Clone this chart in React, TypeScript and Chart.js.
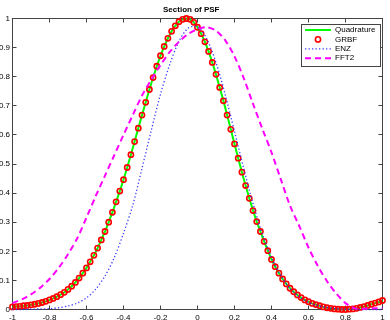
import React, { useEffect, useRef } from 'react';
import { Chart, registerables } from 'chart.js';

Chart.register(...registerables);

// ---- data ----
const xFine = [
  -1, -0.98, -0.96, -0.94, -0.92, -0.9, -0.88, -0.86, -0.84, -0.82,
  -0.8, -0.78, -0.76, -0.74, -0.72, -0.7, -0.68, -0.66, -0.64, -0.62,
  -0.6, -0.58, -0.56, -0.54, -0.52, -0.5, -0.48, -0.46, -0.44, -0.42,
  -0.4, -0.38, -0.36, -0.34, -0.32, -0.3, -0.28, -0.26, -0.24, -0.22,
  -0.2, -0.18, -0.16, -0.14, -0.12, -0.1, -0.08, -0.06, -0.04, -0.02,
  0, 0.02, 0.04, 0.06, 0.08, 0.1, 0.12, 0.14, 0.16, 0.18,
  0.2, 0.22, 0.24, 0.26, 0.28, 0.3, 0.32, 0.34, 0.36, 0.38,
  0.4, 0.42, 0.44, 0.46, 0.48, 0.5, 0.52, 0.54, 0.56, 0.58,
  0.6, 0.62, 0.64, 0.66, 0.68, 0.7, 0.72, 0.74, 0.76, 0.78,
  0.8, 0.82, 0.84, 0.86, 0.88, 0.9, 0.92, 0.94, 0.96, 0.98, 1,
];

const quadrature = [
  0.009, 0.010, 0.011, 0.013, 0.014, 0.016, 0.018, 0.021, 0.024, 0.028,
  0.033, 0.038, 0.044, 0.051, 0.059, 0.069, 0.080, 0.093, 0.108, 0.125,
  0.143, 0.164, 0.186, 0.211, 0.239, 0.268, 0.300, 0.334, 0.370, 0.407,
  0.446, 0.488, 0.532, 0.577, 0.623, 0.668, 0.712, 0.756, 0.797, 0.836,
  0.872, 0.904, 0.932, 0.956, 0.975, 0.989, 0.997, 1.000, 0.997, 0.987,
  0.970, 0.948, 0.920, 0.887, 0.849, 0.808, 0.763, 0.717, 0.668, 0.619,
  0.569, 0.520, 0.472, 0.426, 0.382, 0.340, 0.302, 0.268, 0.234, 0.202,
  0.172, 0.147, 0.125, 0.105, 0.088, 0.073, 0.061, 0.050, 0.041, 0.033,
  0.027, 0.021, 0.017, 0.013, 0.009, 0.006, 0.004, 0.002, 0.001, 0.000,
  0.000, 0.001, 0.002, 0.004, 0.007, 0.010, 0.014, 0.018, 0.022, 0.026, 0.031,
];

// GRBF coincides with the quadrature reference at every sample
const grbf = [
  0.009, 0.010, 0.011, 0.013, 0.014, 0.016, 0.018, 0.021, 0.024, 0.028,
  0.033, 0.038, 0.044, 0.051, 0.059, 0.069, 0.080, 0.093, 0.108, 0.125,
  0.143, 0.164, 0.186, 0.211, 0.239, 0.268, 0.300, 0.334, 0.370, 0.407,
  0.446, 0.488, 0.532, 0.577, 0.623, 0.668, 0.712, 0.756, 0.797, 0.836,
  0.872, 0.904, 0.932, 0.956, 0.975, 0.989, 0.997, 1.000, 0.997, 0.987,
  0.970, 0.948, 0.920, 0.887, 0.849, 0.808, 0.763, 0.717, 0.668, 0.619,
  0.569, 0.520, 0.472, 0.426, 0.382, 0.340, 0.302, 0.268, 0.234, 0.202,
  0.172, 0.147, 0.125, 0.105, 0.088, 0.073, 0.061, 0.050, 0.041, 0.033,
  0.027, 0.021, 0.017, 0.013, 0.009, 0.006, 0.004, 0.002, 0.001, 0.000,
  0.000, 0.001, 0.002, 0.004, 0.007, 0.010, 0.014, 0.018, 0.022, 0.026, 0.031,
];

const xCoarse = [
  -1, -0.95, -0.9, -0.85, -0.8, -0.75, -0.7, -0.65, -0.6, -0.55,
  -0.5, -0.45, -0.4, -0.35, -0.3, -0.25, -0.2, -0.15, -0.1, -0.05,
  0, 0.05, 0.1, 0.15, 0.2, 0.25, 0.3, 0.35, 0.4, 0.45,
  0.5, 0.55, 0.6, 0.65, 0.7, 0.75, 0.8, 0.85, 0.9, 0.95, 1,
];

const enz = [
  0.000, 0.000, 0.001, 0.002, 0.003, 0.006, 0.012, 0.022, 0.040, 0.070,
  0.115, 0.178, 0.262, 0.358, 0.485, 0.615, 0.740, 0.842, 0.922, 0.967,
  0.972, 0.930, 0.849, 0.738, 0.612, 0.484, 0.364, 0.261, 0.179, 0.117,
  0.072, 0.043, 0.024, 0.013, 0.007, 0.003, 0.001, 0.000, 0.000, 0.000, 0.000,
];

const fft2 = [
  0.022, 0.035, 0.052, 0.075, 0.105, 0.143, 0.190, 0.245, 0.316, 0.390,
  0.460, 0.530, 0.600, 0.668, 0.735, 0.790, 0.840, 0.885, 0.920, 0.947,
  0.963, 0.970, 0.958, 0.925, 0.870, 0.795, 0.707, 0.622, 0.540, 0.448,
  0.357, 0.287, 0.213, 0.150, 0.097, 0.055, 0.022, 0.004, 0.003, 0.004, 0.005,
];

const seriesNames = ['Quadrature', 'GRBF', 'ENZ', 'FFT2'];
const titleText = 'Section of PSF';

const xTickValues = [-1, -0.8, -0.6, -0.4, -0.2, 0, 0.2, 0.4, 0.6, 0.8, 1];
const xTickLabels = ['-1', '-0.8', '-0.6', '-0.4', '-0.2', '0', '0.2', '0.4', '0.6', '0.8', '1'];
const yTickValues = [0, 0.1, 0.2, 0.3, 0.4, 0.5, 0.6, 0.7, 0.8, 0.9, 1];
const yTickLabels = ['0', '0.1', '0.2', '0.3', '0.4', '0.5', '0.6', '0.7', '0.8', '0.9', '1'];

// ---- styling ----
const FONT = "'Liberation Sans', Arial, Helvetica, sans-serif";
const AXIS_COLOR = '#444';

const pts = (xs: number[], ys: number[]) => xs.map((x, i) => ({ x, y: ys[i] }));
const labelFor = (vals: number[], labels: string[], v: number) => {
  const i = vals.findIndex((t) => Math.abs(t - v) < 1e-9);
  return i >= 0 ? labels[i] : '';
};
const half = (p: number) => Math.round(p - 0.5) + 0.5;

const framePlugin = {
  id: 'matlabFrame',
  beforeDatasetsDraw(chart: any) {
    const { ctx, chartArea: a, scales } = chart;
    ctx.save();
    ctx.strokeStyle = AXIS_COLOR;
    ctx.lineWidth = 1;
    ctx.strokeRect(a.left, a.top, a.right - a.left, a.bottom - a.top);
    const tl = 4;
    ctx.beginPath();
    xTickValues.forEach((v) => {
      const px = half(scales.x.getPixelForValue(v));
      ctx.moveTo(px, a.bottom);
      ctx.lineTo(px, a.bottom - tl);
      ctx.moveTo(px, a.top);
      ctx.lineTo(px, a.top + tl);
    });
    yTickValues.forEach((v) => {
      const py = half(scales.y.getPixelForValue(v));
      ctx.moveTo(a.left, py);
      ctx.lineTo(a.left + tl, py);
      ctx.moveTo(a.right, py);
      ctx.lineTo(a.right - tl, py);
    });
    ctx.stroke();
    ctx.restore();
  },
};

const legendPlugin = {
  id: 'matlabLegend',
  afterDraw(chart: any) {
    const { ctx } = chart;
    const bx = 301.5, by = 24.5, bw = 79, bh = 42;
    ctx.save();
    ctx.fillStyle = '#fff';
    ctx.fillRect(bx, by, bw, bh);
    ctx.strokeStyle = AXIS_COLOR;
    ctx.lineWidth = 1;
    ctx.strokeRect(bx, by, bw, bh);
    const x0 = 305, x1 = 331, tx = 335;
    chart.data.datasets.forEach((ds: any, i: number) => {
      const y = 30 + i * 9.4;
      ctx.save();
      if (ds.showLine === false) {
        ctx.beginPath();
        ctx.strokeStyle = ds.pointBorderColor;
        ctx.lineWidth = ds.pointBorderWidth;
        ctx.arc((x0 + x1) / 2, y, ds.pointRadius, 0, Math.PI * 2);
        ctx.stroke();
      } else {
        ctx.beginPath();
        ctx.strokeStyle = ds.borderColor;
        ctx.lineWidth = ds.borderWidth;
        ctx.setLineDash(ds.borderDash || []);
        ctx.moveTo(x0, y);
        ctx.lineTo(x1, y);
        ctx.stroke();
      }
      ctx.restore();
      ctx.fillStyle = '#000';
      ctx.font = `8px ${FONT}`;
      ctx.textBaseline = 'middle';
      ctx.textAlign = 'left';
      ctx.fillText(ds.label, tx, y);
    });
    ctx.restore();
  },
};

export default function App() {
  const ref = useRef<HTMLCanvasElement>(null);

  useEffect(() => {
    const chart = new Chart(ref.current as HTMLCanvasElement, {
      type: 'line',
      data: {
        datasets: [
          {
            label: seriesNames[0],
            data: pts(xFine, quadrature),
            borderColor: '#00ff00',
            borderWidth: 2,
            pointRadius: 0,
            tension: 0,
            order: 3,
            clip: false,
          },
          {
            label: seriesNames[1],
            data: pts(xFine, grbf),
            showLine: false,
            pointRadius: 2.6,
            pointBorderWidth: 1.6,
            pointBorderColor: '#ff0000',
            pointBackgroundColor: 'rgba(0,0,0,0)',
            borderColor: '#ff0000',
            order: 2,
            clip: false,
          },
          {
            label: seriesNames[2],
            data: pts(xCoarse, enz),
            borderColor: 'rgba(40,40,255,0.9)',
            borderWidth: 1.3,
            borderDash: [1.3, 2.2],
            pointRadius: 0,
            tension: 0.3,
            order: 1,
            clip: false,
          },
          {
            label: seriesNames[3],
            data: pts(xCoarse, fft2),
            borderColor: '#ff00ff',
            borderWidth: 2,
            borderDash: [6, 4],
            pointRadius: 0,
            tension: 0.3,
            order: 0,
            clip: false,
          },
        ] as any,
      },
      options: {
        responsive: false,
        devicePixelRatio: 1,
        animation: false,
        layout: { padding: { left: 0, right: 7.5, top: 0, bottom: 0 } },
        plugins: {
          legend: { display: false },
          tooltip: { enabled: false },
          title: {
            display: true,
            text: titleText,
            color: '#000',
            font: { family: FONT, size: 8, weight: 'bold' },
            padding: { top: 5, bottom: 3.9 },
          },
        },
        scales: {
          x: {
            type: 'linear',
            min: -1,
            max: 1,
            grid: { display: false, drawTicks: false },
            border: { display: false },
            afterBuildTicks: (s: any) => {
              s.ticks = xTickValues.map((value) => ({ value }));
            },
            afterFit: (s: any) => {
              s.height = 10.5;
            },
            ticks: {
              autoSkip: false,
              maxRotation: 0,
              minRotation: 0,
              padding: 3,
              color: '#000',
              font: { family: FONT, size: 8 },
              callback: (v: any) => labelFor(xTickValues, xTickLabels, Number(v)),
            },
          },
          y: {
            type: 'linear',
            min: 0,
            max: 1,
            grid: { display: false, drawTicks: false },
            border: { display: false },
            afterBuildTicks: (s: any) => {
              s.ticks = yTickValues.map((value) => ({ value }));
            },
            afterFit: (s: any) => {
              s.width = 12.5;
            },
            ticks: {
              autoSkip: false,
              padding: 2.5,
              color: '#000',
              font: { family: FONT, size: 8 },
              callback: (v: any) => labelFor(yTickValues, yTickLabels, Number(v)),
            },
          },
        },
      } as any,
      plugins: [framePlugin, legendPlugin],
    });
    return () => chart.destroy();
  }, []);

  return (
    <div style={{ position: 'fixed', left: 0, top: 0, width: 390, height: 320, background: '#fff' }}>
      <canvas ref={ref} width={390} height={320} style={{ display: 'block', width: 390, height: 320 }} />
    </div>
  );
}
